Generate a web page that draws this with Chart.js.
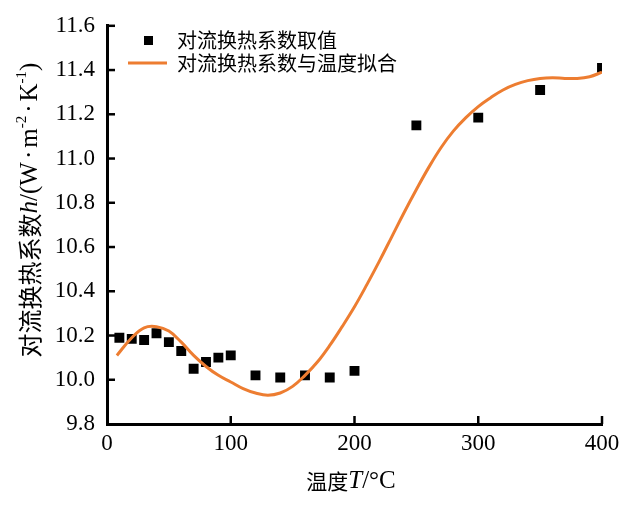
<!DOCTYPE html>
<html>
<head>
<meta charset="utf-8">
<script src="https://cdn.jsdelivr.net/npm/chart.js@4.4.0/dist/chart.umd.min.js"></script>
<style>
  html, body { margin: 0; padding: 0; background: #fff; }
  #wrap { width: 640px; height: 510px; }
</style>
</head>
<body>
<div id="wrap"><canvas id="c" width="640" height="510"></canvas></div>
<script>
// measured values
const tempT = [10, 20, 30, 40, 50, 60, 70, 80, 90, 100, 120, 140, 160, 180, 200, 250, 300, 350, 400];
const hValue = [10.19, 10.185, 10.18, 10.21, 10.17, 10.13, 10.05, 10.08, 10.10, 10.11, 10.02, 10.01, 10.02, 10.01, 10.04, 11.15, 11.185, 11.31, 11.41];

// fitted curve
const fitT = [8, 20, 30, 40, 50, 60, 70, 80, 90, 100, 110, 120, 130, 140, 150, 160, 170, 180, 190, 200,
  210, 220, 230, 240, 250, 260, 270, 280, 290, 300, 310, 320, 330, 340, 350, 360, 370, 380, 390, 400];
const fitH = [10.11, 10.19, 10.235, 10.24, 10.22, 10.17, 10.11, 10.06, 10.02, 9.99, 9.96, 9.94, 9.93, 9.94, 9.97, 10.02, 10.08, 10.155, 10.24, 10.33,
  10.43, 10.535, 10.645, 10.755, 10.86, 10.96, 11.05, 11.125, 11.185, 11.235, 11.275, 11.31, 11.335, 11.352, 11.362, 11.365, 11.362, 11.362, 11.37, 11.39];

const xTicks = [0, 100, 200, 300, 400];
const yTicks = [9.8, 10.0, 10.2, 10.4, 10.6, 10.8, 11.0, 11.2, 11.4, 11.6];

const legendLabels = ["对流换热系数取值", "对流换热系数与温度拟合"];

const orange = "#ED7D31";
const cjk = "'Noto Sans CJK SC', 'Noto Sans', sans-serif";
const serif = "'Liberation Serif', 'DejaVu Serif', serif";

// draws a run of mixed text segments starting at x
function drawRuns(ctx, runs, x, y) {
  runs.forEach((r) => {
    ctx.font = r.font;
    ctx.fillText(r.text, x + (r.pad || 0) / 2, y + (r.dy || 0));
    x += ctx.measureText(r.text).width + (r.pad || 0);
  });
}
function runsWidth(ctx, runs) {
  let w = 0;
  runs.forEach((r) => { ctx.font = r.font; w += ctx.measureText(r.text).width + (r.pad || 0); });
  return w;
}

const extras = {
  id: "extras",
  afterDraw(chart) {
    const ctx = chart.ctx;
    const xs = chart.scales.x, ys = chart.scales.y;
    const area = chart.chartArea;
    ctx.save();
    // inward ticks
    ctx.strokeStyle = "#000";
    ctx.lineWidth = 2.5;
    xTicks.forEach((v) => {
      if (v === 0) return;
      const px = xs.getPixelForValue(v);
      ctx.beginPath(); ctx.moveTo(px, area.bottom); ctx.lineTo(px, area.bottom - 8); ctx.stroke();
    });
    yTicks.forEach((v) => {
      if (v === 9.8) return;
      const py = ys.getPixelForValue(v);
      ctx.beginPath(); ctx.moveTo(area.left, py); ctx.lineTo(area.left + 8, py); ctx.stroke();
    });

    // legend
    ctx.fillStyle = "#000";
    ctx.textBaseline = "middle";
    ctx.fillRect(144, 36, 9, 9);
    ctx.strokeStyle = orange;
    ctx.lineWidth = 3;
    ctx.beginPath(); ctx.moveTo(128, 63); ctx.lineTo(167, 63); ctx.stroke();
    ctx.font = "20px " + cjk;
    ctx.fillText(legendLabels[0], 177, 40);
    ctx.fillText(legendLabels[1], 177, 63);

    // x title
    const xr = [
      { text: "温度", font: "21px " + cjk },
      { text: "T", font: "italic 25px " + serif },
      { text: "/°C", font: "25px " + serif },
    ];
    drawRuns(ctx, xr, 351 - runsWidth(ctx, xr) / 2, 481);

    // y title
    const yr = [
      { text: "对流换热系数", font: "24px " + cjk },
      { text: "h", font: "italic 25px " + serif },
      { text: "/(W", font: "25px " + serif },
      { text: "·", font: "25px " + serif, pad: 6 },
      { text: "m", font: "25px " + serif },
      { text: "-2", font: "15px " + serif, dy: -8 },
      { text: "·", font: "25px " + serif, pad: 6 },
      { text: "K", font: "25px " + serif },
      { text: "-1", font: "15px " + serif, dy: -8 },
      { text: ")", font: "25px " + serif },
    ];
    ctx.translate(30, 210);
    ctx.rotate(-Math.PI / 2);
    drawRuns(ctx, yr, -runsWidth(ctx, yr) / 2, 0);
    ctx.restore();
  },
};

new Chart(document.getElementById("c").getContext("2d"), {
  type: "scatter",
  data: {
    datasets: [
      {
        type: "line",
        label: legendLabels[1],
        data: fitT.map((t, i) => ({ x: t, y: fitH[i] })),
        borderColor: orange,
        borderWidth: 3,
        pointRadius: 0,
        tension: 0.4,
        fill: false,
      },
      {
        label: legendLabels[0],
        data: tempT.map((t, i) => ({ x: t, y: hValue[i] })),
        pointStyle: "rect",
        pointRadius: 7,
        backgroundColor: "#000",
        borderColor: "#000",
        borderWidth: 0,
        clip: { left: 10, top: 10, bottom: 10, right: 0 },
      },
    ],
  },
  options: {
    responsive: false,
    animation: false,
    layout: { padding: { top: 22, right: 38, left: 0, bottom: 0 } },
    plugins: { legend: { display: false }, tooltip: { enabled: false } },
    scales: {
      x: {
        type: "linear",
        min: 0,
        max: 400,
        afterFit: (s) => { s.height = 86; },
        afterBuildTicks: (s) => { s.ticks = xTicks.map((v) => ({ value: v })); },
        ticks: { color: "#000", padding: 6, font: { family: serif, size: 23 } },
        grid: { drawOnChartArea: false, drawTicks: false },
        border: { color: "#000", width: 3 },
      },
      y: {
        min: 9.8,
        max: 11.6,
        afterFit: (s) => { s.width = 107; },
        afterBuildTicks: (s) => { s.ticks = yTicks.map((v) => ({ value: v })); },
        ticks: {
          color: "#000",
          padding: 12,
          font: { family: serif, size: 23 },
          callback: (v) => Number(v).toFixed(1),
        },
        grid: { drawOnChartArea: false, drawTicks: false },
        border: { color: "#000", width: 3 },
      },
    },
  },
  plugins: [extras],
});
</script>
</body>
</html>
